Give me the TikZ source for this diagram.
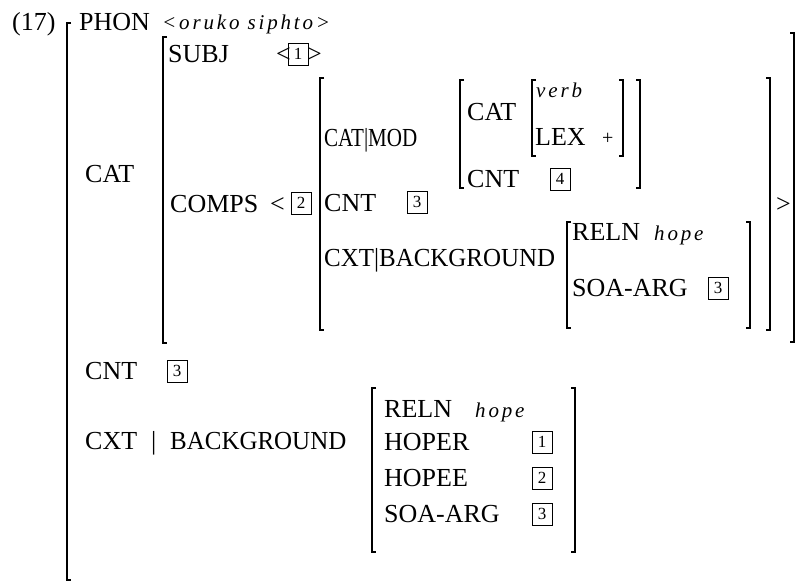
\documentclass[tikz,border=0pt]{standalone}
\usepackage{fontspec}
\usepackage{graphicx}
\setmainfont{Liberation Serif}
\newfontfamily\itf[LetterSpace=13.5]{Liberation Serif}
\newcommand\lbrk[4][1.5pt]{\draw[line width=#1,line join=miter] (#2+4,#3) -- (#2,#3) -- (#2,#4) -- (#2+4,#4);}
\newcommand\rbrk[4][1.5pt]{\draw[line width=#1,line join=miter] (#2-4,#3) -- (#2,#3) -- (#2,#4) -- (#2-4,#4);}
\tikzset{
  lbl/.style={anchor=base west, inner sep=0pt, font=\fontsize{26}{26}\selectfont},
  ival/.style={anchor=base west, inner sep=0pt, font=\fontsize{21}{21}\selectfont\itf\itshape},
  tag/.style={draw, line width=0.8pt, minimum width=20pt, minimum height=22pt, inner sep=0pt, font=\fontsize{17}{17}\selectfont},
}
\begin{document}
\begin{tikzpicture}[x=1pt,y=-1pt]
\useasboundingbox (0,0) rectangle (807,582);
% outer structure
\node[lbl] (n17) at (12,30) {(17)};
\lbrk[2.4pt]{67}{23}{580}
\node[lbl] (phon) at (79,30) {PHON};
\node[ival] (phonv) at (162,29) {<oruko siphto>};
\node[lbl] (catlab) at (85,182) {CAT};
% CAT value
\lbrk[1.8pt]{163}{37}{343}
\rbrk[1.8pt]{794}{33}{342}
\node[lbl] (subj) at (168,62) {SUBJ};
\node[lbl] (lt1) at (276,62) {<};
\node[tag] (t1) at (298,54) {1};
\node[lbl] (gt1) at (307,62) {>};
\node[lbl] (comps) at (170,212) {COMPS};
\node[lbl] (lt2) at (270,212) {<};
\node[tag] (t2) at (301,203) {2};
% COMPS element
\lbrk{320}{78}{330}
\rbrk{770}{78}{330}
\node[lbl] (gt2) at (776,212) {>};
\node[lbl] (catmod) at (324,146) {\scalebox{0.81}[1]{CAT|MOD}};
\lbrk{460}{80}{188}
\rbrk{640}{80}{188}
\node[lbl] (incat) at (467,120) {CAT};
\lbrk{532}{80}{156}
\rbrk{623}{80}{156}
\node[ival] (verb) at (536,97) {verb};
\node[lbl] (lex) at (535,145) {LEX};
\node[lbl, font=\fontsize{20}{20}\selectfont] (plus) at (602,144) {+};
\node[lbl] (incnt) at (467,187) {CNT};
\node[tag] (t4) at (560,179) {4};
\node[lbl] (cnt3) at (324,211) {CNT};
\node[tag] (t3a) at (417,202) {3};
\node[lbl] (cxtbg) at (324,266) {\scalebox{0.96}[1]{CXT|BACKGROUND}};
\lbrk{567}{222}{328}
\rbrk{750}{222}{328}
\node[lbl] (reln1) at (572,240) {RELN};
\node[ival] (hope1) at (654,240) {hope};
\node[lbl] (soa1) at (572,296) {SOA-ARG};
\node[tag] (t3b) at (718,288) {3};
% outer CNT and CXT
\node[lbl] (cntout) at (85,379) {CNT};
\node[tag] (t3c) at (177,371) {3};
\node[lbl] (cxtout) at (85,449) {CXT};
\node[lbl] (bar) at (151,449) {|};
\node[lbl] (bgout) at (170,449) {\scalebox{0.96}[1]{BACKGROUND}};
\lbrk{372}{388}{552}
\rbrk{575}{388}{552}
\node[lbl] (reln2) at (384,417) {RELN};
\node[ival] (hope2) at (475,417) {hope};
\node[lbl] (hoper) at (384,450) {HOPER};
\node[tag] (t1b) at (542,442) {1};
\node[lbl] (hopee) at (384,486) {HOPEE};
\node[tag] (t2b) at (542,478) {2};
\node[lbl] (soa2) at (384,522) {SOA-ARG};
\node[tag] (t3d) at (542,514) {3};
\end{tikzpicture}
\end{document}
